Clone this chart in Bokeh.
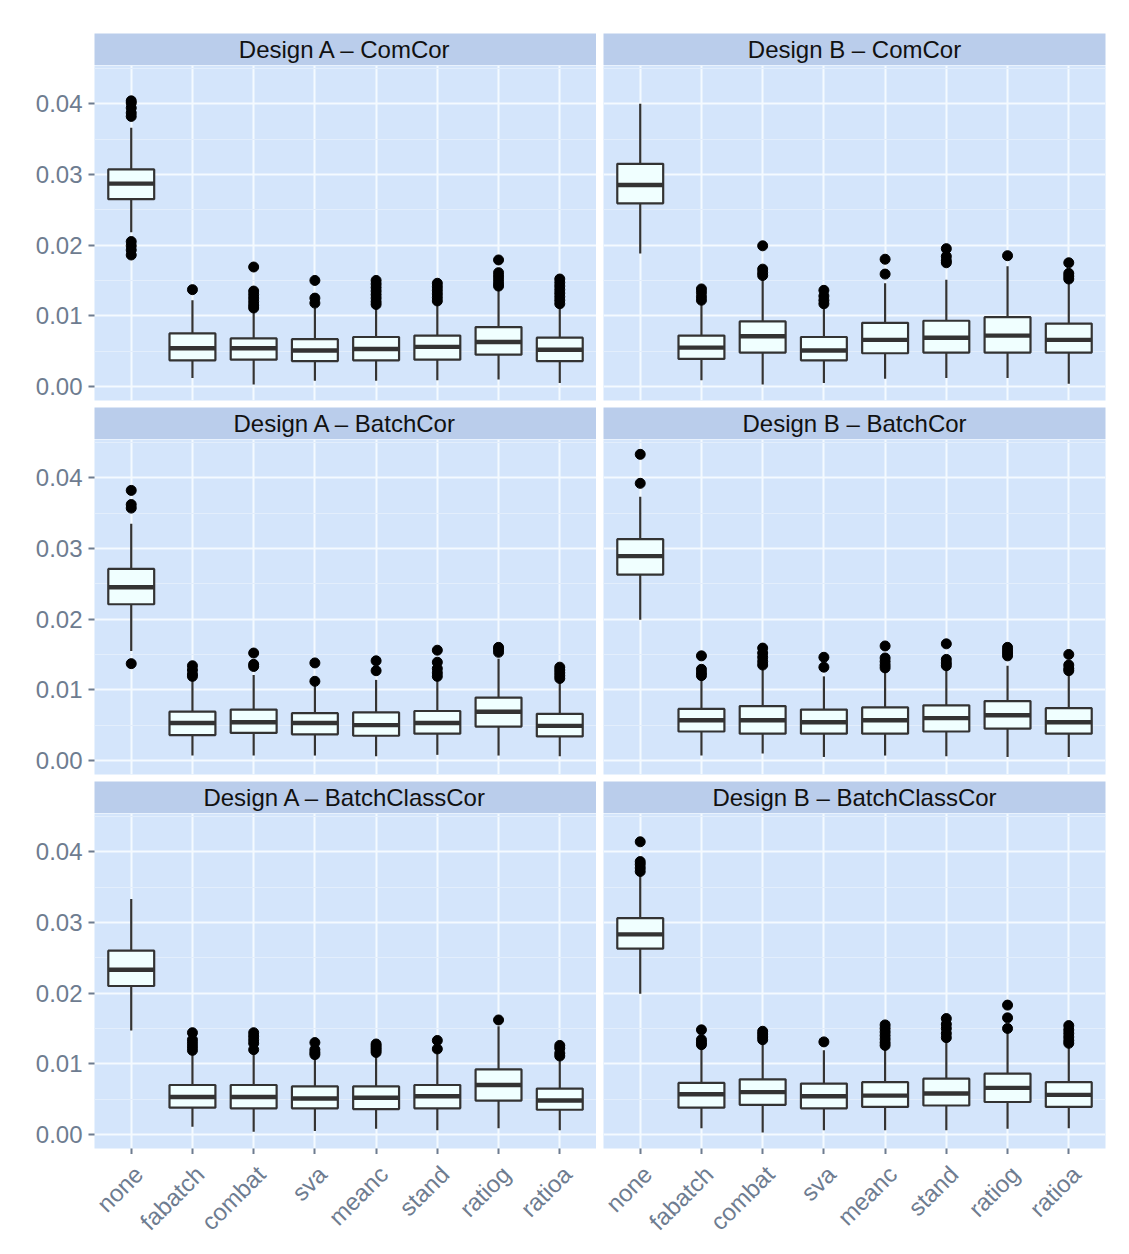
import math
from bokeh.plotting import figure
from bokeh.layouts import column, row
from bokeh.models import (SingleIntervalTicker, FixedTicker, NumeralTickFormatter,
                          Range1d, ColumnDataSource)
from bokeh.core.properties import value
from bokeh.embed import file_html
from bokeh.resources import INLINE

# ---------------- data ----------------
METHODS = ["none", "fabatch", "combat", "sva", "meanc", "stand", "ratiog", "ratioa"]
PANEL_TITLES = ["Design A \u2013 ComCor", "Design B \u2013 ComCor",
                "Design A \u2013 BatchCor", "Design B \u2013 BatchCor",
                "Design A \u2013 BatchClassCor", "Design B \u2013 BatchClassCor"]

LOWER = [
    [0.0218, 0.0012, 0.0003, 0.0008, 0.0008, 0.0009, 0.0010, 0.0005],
    [0.0188, 0.0009, 0.0003, 0.0005, 0.0011, 0.0012, 0.0012, 0.0004],
    [0.0155, 0.0007, 0.0007, 0.0007, 0.0006, 0.0008, 0.0007, 0.0006],
    [0.0199, 0.0007, 0.0010, 0.0005, 0.0007, 0.0006, 0.0005, 0.0005],
    [0.0147, 0.0011, 0.0004, 0.0005, 0.0008, 0.0006, 0.0009, 0.0006],
    [0.0199, 0.0009, 0.0003, 0.0006, 0.0006, 0.0006, 0.0008, 0.0009],
]
Q1 = [
    [0.0265, 0.0037, 0.0038, 0.0036, 0.0037, 0.0038, 0.0045, 0.0036],
    [0.0259, 0.0039, 0.0048, 0.0037, 0.0047, 0.0048, 0.0048, 0.0048],
    [0.0221, 0.0036, 0.0039, 0.0037, 0.0035, 0.0038, 0.0048, 0.0034],
    [0.0263, 0.0041, 0.0038, 0.0038, 0.0038, 0.0041, 0.0045, 0.0038],
    [0.0210, 0.0038, 0.0037, 0.0037, 0.0036, 0.0037, 0.0048, 0.0035],
    [0.0263, 0.0038, 0.0042, 0.0037, 0.0039, 0.0041, 0.0046, 0.0039],
]
MEDIAN = [
    [0.0287, 0.0054, 0.0054, 0.0051, 0.0053, 0.0056, 0.0063, 0.0052],
    [0.0285, 0.0055, 0.0071, 0.0051, 0.0066, 0.0069, 0.0072, 0.0066],
    [0.0245, 0.0053, 0.0054, 0.0053, 0.0050, 0.0053, 0.0069, 0.0049],
    [0.0289, 0.0057, 0.0057, 0.0054, 0.0057, 0.0060, 0.0064, 0.0054],
    [0.0233, 0.0053, 0.0053, 0.0051, 0.0052, 0.0054, 0.0070, 0.0048],
    [0.0283, 0.0057, 0.0060, 0.0054, 0.0055, 0.0058, 0.0066, 0.0056],
]
Q3 = [
    [0.0307, 0.0075, 0.0068, 0.0067, 0.0070, 0.0072, 0.0084, 0.0069],
    [0.0315, 0.0072, 0.0092, 0.0070, 0.0090, 0.0093, 0.0098, 0.0089],
    [0.0271, 0.0069, 0.0072, 0.0067, 0.0068, 0.0070, 0.0089, 0.0066],
    [0.0313, 0.0073, 0.0077, 0.0072, 0.0075, 0.0078, 0.0084, 0.0074],
    [0.0260, 0.0070, 0.0070, 0.0068, 0.0068, 0.0070, 0.0092, 0.0065],
    [0.0306, 0.0073, 0.0078, 0.0072, 0.0074, 0.0079, 0.0086, 0.0074],
]
UPPER = [
    [0.0366, 0.0122, 0.0110, 0.0111, 0.0114, 0.0117, 0.0139, 0.0114],
    [0.0400, 0.0117, 0.0154, 0.0114, 0.0146, 0.0151, 0.0170, 0.0150],
    [0.0335, 0.0114, 0.0121, 0.0107, 0.0114, 0.0114, 0.0144, 0.0112],
    [0.0373, 0.0114, 0.0131, 0.0119, 0.0128, 0.0130, 0.0134, 0.0124],
    [0.0333, 0.0115, 0.0115, 0.0110, 0.0112, 0.0115, 0.0153, 0.0107],
    [0.0366, 0.0123, 0.0130, 0.0119, 0.0123, 0.0132, 0.0145, 0.0125],
]
OUTLIERS = [
    [[0.0404, 0.0401, 0.0394, 0.0387, 0.0382, 0.0205, 0.0199, 0.0193, 0.0186],
     [0.0137],
     [0.0169, 0.0135, 0.0130, 0.0125, 0.0120, 0.0115, 0.0111],
     [0.0150, 0.0125, 0.0118],
     [0.0150, 0.0145, 0.0140, 0.0135, 0.0130, 0.0125, 0.0120, 0.0116],
     [0.0146, 0.0141, 0.0136, 0.0131, 0.0126, 0.0121],
     [0.0179, 0.0161, 0.0156, 0.0151, 0.0146, 0.0142],
     [0.0152, 0.0147, 0.0142, 0.0137, 0.0132, 0.0127, 0.0122, 0.0117]],
    [[],
     [0.0138, 0.0133, 0.0127, 0.0122],
     [0.0199, 0.0166, 0.0161, 0.0157],
     [0.0136, 0.0128, 0.0122, 0.0117],
     [0.0180, 0.0159],
     [0.0195, 0.0184, 0.0178, 0.0175],
     [0.0185],
     [0.0175, 0.0160, 0.0156, 0.0152]],
    [[0.0382, 0.0362, 0.0357, 0.0137],
     [0.0134, 0.0128, 0.0122, 0.0119],
     [0.0152, 0.0136, 0.0133],
     [0.0138, 0.0112],
     [0.0141, 0.0127],
     [0.0156, 0.0139, 0.0130, 0.0124, 0.0119],
     [0.0160, 0.0157, 0.0153],
     [0.0132, 0.0128, 0.0124, 0.0120, 0.0116]],
    [[0.0433, 0.0392],
     [0.0148, 0.0129, 0.0124, 0.0120],
     [0.0159, 0.0152, 0.0146, 0.0140, 0.0135],
     [0.0146, 0.0132],
     [0.0162, 0.0145, 0.0140, 0.0135, 0.0131],
     [0.0165, 0.0143, 0.0138, 0.0134],
     [0.0160, 0.0156, 0.0152, 0.0148],
     [0.0150, 0.0135, 0.0130, 0.0127]],
    [[],
     [0.0144, 0.0134, 0.0129, 0.0124, 0.0119],
     [0.0144, 0.0139, 0.0134, 0.0129, 0.0120],
     [0.0130, 0.0120, 0.0116, 0.0113],
     [0.0128, 0.0125, 0.0122, 0.0119, 0.0116],
     [0.0133, 0.0121],
     [0.0162],
     [0.0126, 0.0122, 0.0115, 0.0111]],
    [[0.0414, 0.0386, 0.0382, 0.0377, 0.0372],
     [0.0148, 0.0134, 0.0130, 0.0127],
     [0.0146, 0.0142, 0.0138, 0.0134],
     [0.0131],
     [0.0155, 0.0150, 0.0145, 0.0140, 0.0135, 0.0130, 0.0126],
     [0.0164, 0.0156, 0.0150, 0.0143, 0.0137],
     [0.0183, 0.0165, 0.0150],
     [0.0154, 0.0148, 0.0143, 0.0138, 0.0133, 0.0129]],
]
Y_MIN, Y_MAX = -0.00198, 0.0454

# ---------------- style ----------------
FONT = "Liberation Sans"
PANEL_BG = "#D4E5FB"
STRIP_BG = "#BACDEB"
GRID_MAJOR = "#F4FAFF"
GRID_MINOR = "#E3EEFC"
BOX_LINE = "#333333"
BOX_FILL = "#F0FFFF"
TICK_COLOR = "#6E7C90"
TICK_TEXT = "#6E7C90"
FS = "24px"

FRAME_W = 502
FRAME_H = 335
STRIP_H = 32
GAP = 7
LEFT_PAD = 94
RIGHT_PAD = 15
TOP_PAD = 33
TICK_LEN = 6
LABEL_H = 84      # height of the band holding the rotated category labels
LABEL_DROP = 6    # distance (px) from tick end to label anchor
LABEL_SHIFT = -2  # horizontal shift (px) of label anchor from tick
BOX_W = 0.75


def borders(col):
    return (LEFT_PAD, 0) if col == 0 else (GAP, RIGHT_PAD)


def make_strip(text, col, first_row):
    lb, rb = borders(col)
    tb = TOP_PAD if first_row else 0
    s = figure(width=FRAME_W + lb + rb, height=STRIP_H + tb,
               x_range=Range1d(0, 1), y_range=Range1d(0, 1),
               x_axis_location=None, y_axis_location=None,
               toolbar_location=None, output_backend="svg",
               min_border_left=lb, min_border_right=rb,
               min_border_top=tb, min_border_bottom=0)
    s.background_fill_color = STRIP_BG
    s.border_fill_color = "white"
    s.outline_line_color = None
    s.grid.visible = False
    s.text(x=[0.5], y=[0.5], text=[text], text_align="center",
           text_baseline="middle", text_font=value(FONT),
           text_font_size=FS, text_color="#111111")
    return s


def make_panel(idx, col, last_row):
    lb, rb = borders(col)
    bb = TICK_LEN if last_row else GAP
    p = figure(width=FRAME_W + lb + rb, height=FRAME_H + bb,
               x_range=Range1d(0.4, len(METHODS) + 0.6),
               y_range=Range1d(Y_MIN, Y_MAX),
               toolbar_location=None, output_backend="svg",
               min_border_left=lb, min_border_right=rb,
               min_border_top=0, min_border_bottom=bb)
    p.background_fill_color = PANEL_BG
    p.border_fill_color = "white"
    p.outline_line_color = None

    xs = list(range(1, len(METHODS) + 1))
    src = ColumnDataSource(dict(
        x=xs,
        xl=[x - BOX_W / 2 for x in xs],
        xr=[x + BOX_W / 2 for x in xs],
        lo=LOWER[idx], q1=Q1[idx], med=MEDIAN[idx], q3=Q3[idx], hi=UPPER[idx]))

    # axes / grid
    p.yaxis.ticker = SingleIntervalTicker(interval=0.01, num_minor_ticks=2)
    p.yaxis.formatter = NumeralTickFormatter(format="0.00")
    p.xaxis.ticker = FixedTicker(ticks=xs)
    p.xaxis.major_label_overrides = {x: "" for x in xs}
    for ax in (p.xaxis[0], p.yaxis[0]):
        ax.axis_line_color = None
        ax.major_tick_line_color = TICK_COLOR
        ax.major_tick_line_width = 2
        ax.major_tick_out = TICK_LEN
        ax.major_tick_in = 0
        ax.minor_tick_line_color = None
        ax.major_label_text_font = FONT
        ax.major_label_text_font_size = FS
        ax.major_label_text_color = TICK_TEXT
        ax.major_label_standoff = 6
    p.xaxis.major_label_text_font_size = "0px"
    p.xaxis.major_label_standoff = 0
    p.xgrid.grid_line_color = GRID_MAJOR
    p.xgrid.grid_line_width = 2
    p.ygrid.grid_line_color = GRID_MAJOR
    p.ygrid.grid_line_width = 2
    p.ygrid.minor_grid_line_color = GRID_MINOR
    p.ygrid.minor_grid_line_width = 1
    if col == 1:
        p.yaxis.visible = False
    if not last_row:
        p.xaxis.visible = False

    # boxplots
    p.segment(x0="x", y0="q3", x1="x", y1="hi", source=src,
              line_color=BOX_LINE, line_width=2.2)
    p.segment(x0="x", y0="q1", x1="x", y1="lo", source=src,
              line_color=BOX_LINE, line_width=2.2)
    p.vbar(x="x", width=BOX_W, bottom="q1", top="q3", source=src,
           fill_color=BOX_FILL, line_color=BOX_LINE, line_width=2.2)
    p.segment(x0="xl", y0="med", x1="xr", y1="med", source=src,
              line_color=BOX_LINE, line_width=4.4)
    ox, oy = [], []
    for x, vals in zip(xs, OUTLIERS[idx]):
        for v in vals:
            ox.append(x)
            oy.append(v)
    p.scatter(x=ox, y=oy, size=10, fill_color="black", line_color="black")
    return p


def make_label_band(panel, col):
    """Band below a bottom panel holding its rotated x tick labels."""
    lb, rb = borders(col)
    b = figure(width=FRAME_W + lb + rb, height=LABEL_H,
               x_range=panel.x_range, y_range=Range1d(-LABEL_H, 0),
               x_axis_location=None, y_axis_location=None,
               toolbar_location=None, output_backend="svg",
               min_border_left=lb, min_border_right=rb,
               min_border_top=0, min_border_bottom=0)
    b.background_fill_color = "white"
    b.border_fill_color = "white"
    b.outline_line_color = None
    b.grid.visible = False
    xs = list(range(1, len(METHODS) + 1))
    b.text(x=xs, y=[-LABEL_DROP] * len(xs), text=METHODS,
           angle=math.pi / 4, text_align="right", text_baseline="top",
           x_offset=LABEL_SHIFT, text_font=value(FONT), text_font_size=FS,
           text_color=TICK_TEXT)
    return b


rows = []
for r in range(3):
    strips = [make_strip(PANEL_TITLES[2 * r + c], c, r == 0) for c in range(2)]
    panels = [make_panel(2 * r + c, c, r == 2) for c in range(2)]
    rows.append(row(*strips, spacing=0))
    rows.append(row(*panels, spacing=0))
    if r == 2:
        rows.append(row(*[make_label_band(panels[c], c) for c in range(2)], spacing=0))

layout = column(*rows, spacing=0)

open("out.html", "w").write(file_html(layout, INLINE))
